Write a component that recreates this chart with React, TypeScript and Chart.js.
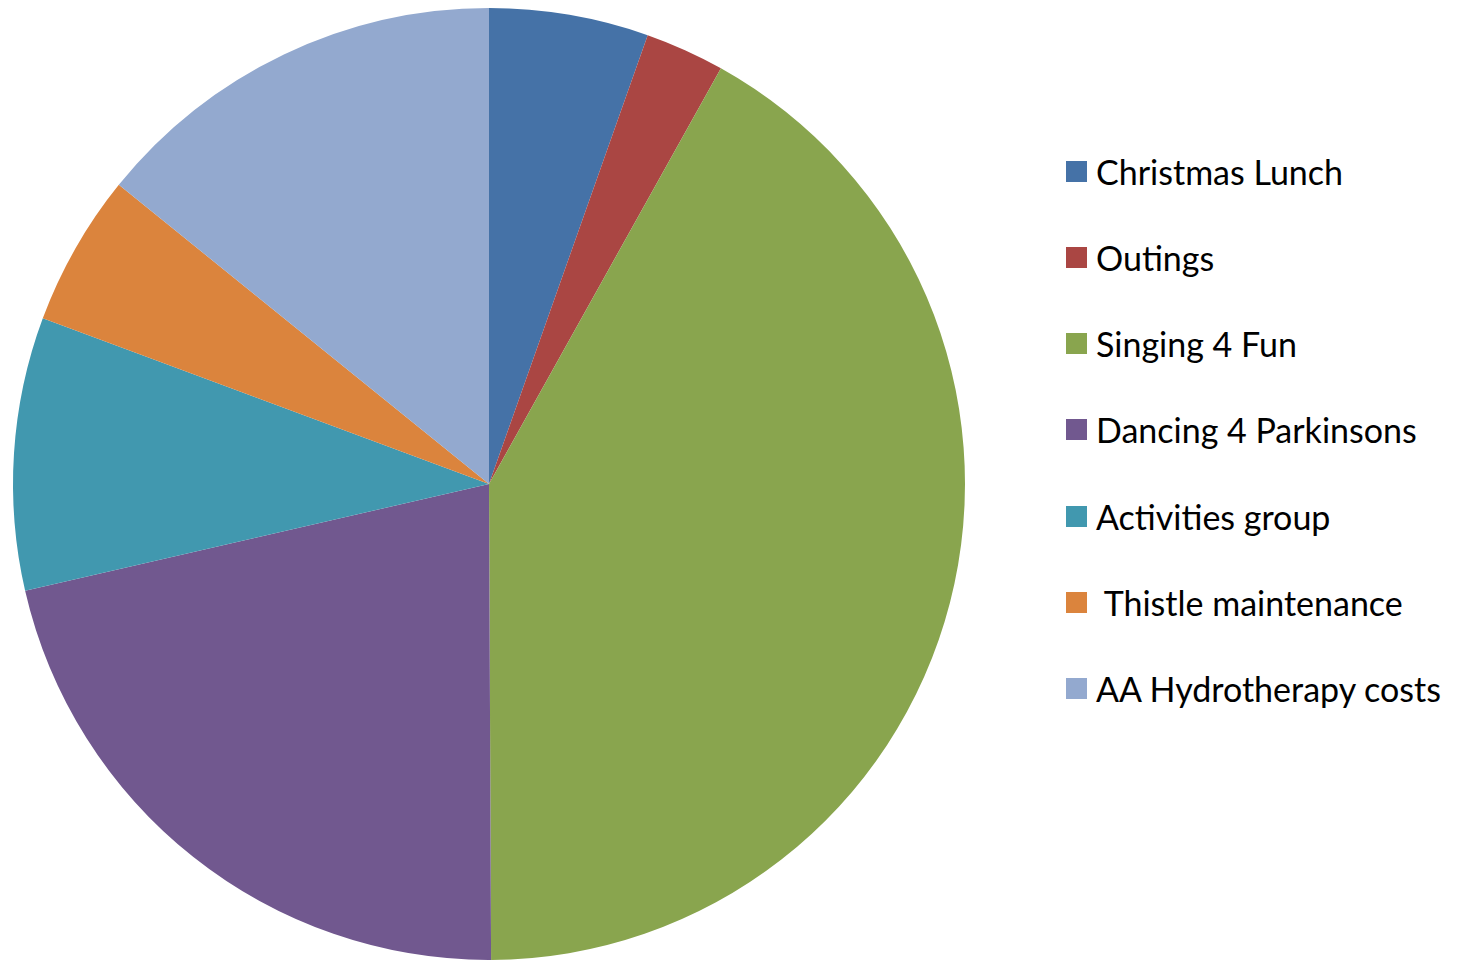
import React, { useEffect, useRef } from "react";
import { Chart, registerables } from "chart.js";

Chart.register(...registerables);

const categories: string[] = [
  "Christmas Lunch",
  "Outings",
  "Singing 4 Fun",
  "Dancing 4 Parkinsons",
  "Activities group",
  " Thistle maintenance",
  "AA Hydrotherapy costs",
];

const shares: number[] = [5.41, 2.69, 41.83, 21.47, 9.26, 5.16, 14.18];

const colors: string[] = [
  "#4572A7",
  "#AA4643",
  "#89A54E",
  "#71588F",
  "#4198AF",
  "#DB843D",
  "#93A9CF",
];

export default function App() {
  const canvasRef = useRef<HTMLCanvasElement | null>(null);

  useEffect(() => {
    document.body.style.margin = "0";
    document.body.style.overflow = "hidden";
    if (!canvasRef.current) return;
    const chart = new Chart(canvasRef.current, {
      type: "pie",
      data: {
        labels: categories,
        datasets: [
          {
            data: shares,
            backgroundColor: colors,
            borderWidth: 0,
            hoverOffset: 0,
          },
        ],
      },
      options: {
        animation: false,
        responsive: true,
        maintainAspectRatio: false,
        layout: { padding: 0 },
        plugins: {
          legend: { display: false },
          tooltip: { enabled: false },
        },
      },
    });
    return () => chart.destroy();
  }, []);

  return (
    <div
      style={{
        position: "fixed",
        left: 0,
        top: 0,
        width: 1462,
        height: 960,
        background: "#ffffff",
        overflow: "hidden",
      }}
    >
      <div style={{ position: "absolute", left: 0, top: 8, width: 978, height: 952 }}>
        <canvas ref={canvasRef} />
      </div>
      {categories.map((c, i) => (
        <div
          key={c}
          style={{
            position: "absolute",
            left: 1066,
            top: 171 + i * 86.3 - 20,
            height: 40,
            display: "flex",
            alignItems: "center",
            fontFamily: "Lato, 'Open Sans', sans-serif",
            fontSize: 34,
            color: "#000000",
            whiteSpace: "pre",
          }}
        >
          <span
            style={{
              display: "inline-block",
              width: 21,
              height: 21,
              background: colors[i],
              marginRight: 9,
            }}
          />
          <span>{c}</span>
        </div>
      ))}
    </div>
  );
}
